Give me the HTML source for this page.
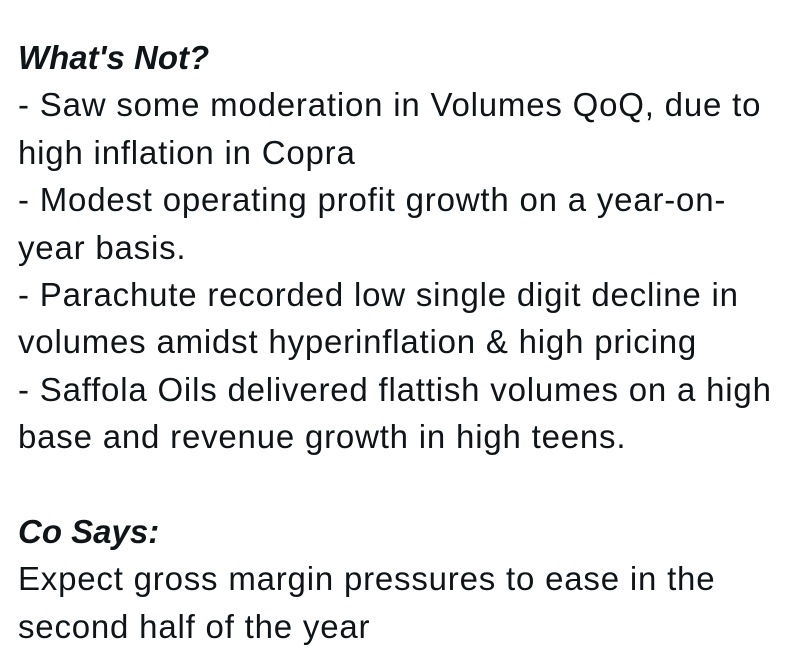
<!DOCTYPE html>
<html><head><meta charset="utf-8"><style>
html,body{margin:0;padding:0;background:#fff;width:800px;height:663px;overflow:hidden}
.t{position:absolute;left:18px;top:34px;font-family:"Liberation Sans",sans-serif;font-size:33px;line-height:47.4px;color:#0f1419;letter-spacing:0.8px;white-space:nowrap}
b{font-style:italic;font-weight:bold;letter-spacing:0}
</style></head><body>
<div class="t"><b>What's Not?</b><br>
- Saw some moderation in Volumes QoQ, due to<br>
high inflation in Copra<br>
- Modest operating profit growth on a year-on-<br>
year basis.<br>
- Parachute recorded low single digit decline in<br>
volumes amidst hyperinflation &amp; high pricing<br>
- Saffola Oils delivered flattish volumes on a high<br>
base and revenue growth in high teens.<br>
<br>
<b>Co Says:</b><br>
Expect gross margin pressures to ease in the<br>
second half of the year</div>
</body></html>
